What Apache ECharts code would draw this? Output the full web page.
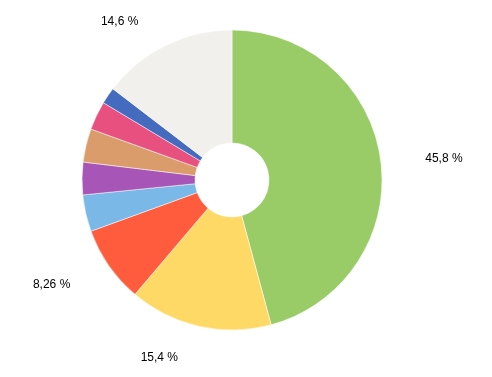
<!DOCTYPE html>
<html><head><meta charset="utf-8">
<script src="https://cdn.jsdelivr.net/npm/echarts@6/dist/echarts.min.js"></script>
<style>html,body{margin:0;padding:0;background:#fff}#c{width:492px;height:377px}</style>
</head><body><div id="c"></div>
<script>
const values = [45.8, 15.4, 8.26, 3.95, 3.5, 3.6, 3.1, 1.79, 14.6];
const labels = ['45,8 %', '15,4 %', '8,26 %', '', '', '', '', '', '14,6 %'];
const colors = ['#99cc66', '#ffd966', '#ff5c3d', '#7ab8e8', '#a855b8', '#da9c6a', '#e8517f', '#456bbf', '#f1f0ec'];
// label line lengths (hidden lines, used only to place labels)
const len1 = [9.6, 31.9, 32.7, 0, 0, 0, 0, 0, 26.6];
const len2 = [30, 9.3, 6.7, 0, 0, 0, 0, 0, 10.5];

const data = values.map((v, i) => ({
  value: v,
  itemStyle: { color: colors[i] },
  label: { show: labels[i] !== '', formatter: labels[i] },
  labelLine: { show: false, length: len1[i], length2: len2[i] }
}));

const chart = echarts.init(document.getElementById('c'), null, { renderer: 'canvas' });
chart.setOption({
  animation: false,
  series: [{
    type: 'pie',
    center: [232, 180],
    radius: [37, 150],
    startAngle: 90,
    clockwise: true,
    avoidLabelOverlap: false,
    data: data,
    itemStyle: { borderColor: '#ffffff', borderWidth: 0.5 },
    label: {
      position: 'outside',
      color: '#000000',
      fontFamily: '"Liberation Sans", Arial, sans-serif',
      fontSize: 12,
      distanceToLabelLine: 5
    },
    emphasis: { disabled: true }
  }]
});
</script></body></html>
